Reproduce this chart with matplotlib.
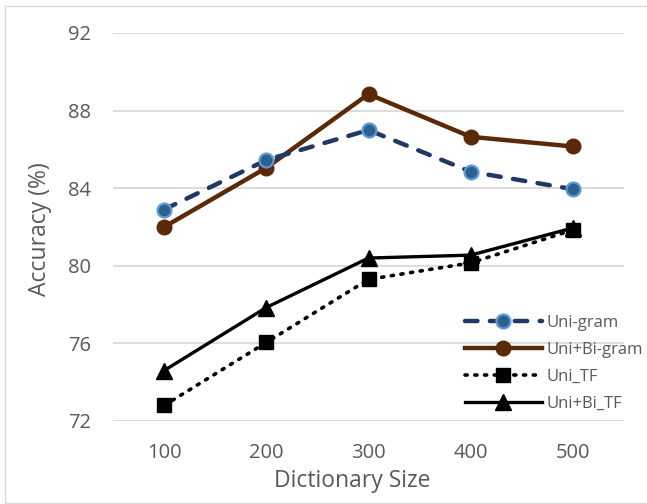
import matplotlib.pyplot as plt
from matplotlib.patches import Rectangle

plt.rcParams['font.family'] = ['Open Sans', 'DejaVu Sans']

sizes = [100, 200, 300, 400, 500]
uni_gram = [82.9, 85.45, 87.0, 84.85, 83.95]
uni_bi_gram = [82.0, 85.05, 88.85, 86.65, 86.15]
uni_tf = [72.8, 76.05, 79.3, 80.15, 81.85]
uni_bi_tf = [74.6, 77.85, 80.4, 80.55, 81.95]
y_ticks = [72, 76, 80, 84, 88, 92]

grey = '#595959'
W, H = 647, 504

fig = plt.figure(figsize=(W / 100, H / 100), dpi=100)
# plot area in pixels: x 113..624, y 33..421
ax = fig.add_axes([113 / W, 1 - 421 / H, (624 - 113) / W, (421 - 33) / H])

ax.plot(sizes, uni_gram, color='#1F3864', lw=3.2, ls=(0, (2.8, 2.8)), dash_capstyle='round',
        marker='o', ms=10, mfc='#2F5F8F', mec='#5B9BD5', mew=1.6, label='Uni-gram', zorder=4)
ax.plot(sizes, uni_bi_gram, color='#5A2A08', lw=3.2, marker='o', ms=10.5,
        mfc='#5A2A08', mec='#5A2A08', label='Uni+Bi-gram', zorder=3)
ax.plot(sizes, uni_tf, color='black', lw=2.6, ls=(0, (0.6, 2.1)), dash_capstyle='round',
        marker='s', ms=10.5, label='Uni_TF', zorder=3)
ax.plot(sizes, uni_bi_tf, color='black', lw=2.4, marker='^', ms=11.5, label='Uni+Bi_TF', zorder=3)

ax.set_xlim(50, 550)
ax.set_ylim(72, 92)
ax.set_xticks(sizes)
ax.set_yticks(y_ticks)
ax.grid(axis='y', color='#D9D9D9', lw=1.3)
ax.set_axisbelow(True)
for s in ax.spines.values():
    s.set_visible(False)
ax.tick_params(length=0, labelsize=14.5, colors=grey)
ax.tick_params(axis='y', pad=16)
ax.tick_params(axis='x', pad=16)

fig.text(352 / W, 1 - 481 / H, 'Dictionary Size', fontsize=16.5, color=grey,
         ha='center', va='center')
fig.text(40 / W, 1 - 229 / H, 'Accuracy (%)', fontsize=16.5, color=grey,
         ha='center', va='center', rotation=90)

leg = ax.legend(loc='lower left', bbox_to_anchor=(465 / W, 1 - 412 / H),
                bbox_transform=fig.transFigure, frameon=False, borderpad=0,
                borderaxespad=0, fontsize=12, handlelength=4.6, labelspacing=0.66,
                handletextpad=0.3)
for t in leg.get_texts():
    t.set_color(grey)

fig.patches.append(Rectangle((5 / W, 1 / H), 1.0, 1 - 7 / H, transform=fig.transFigure,
                             fill=False, ec='#D9D9D9', lw=1))

fig.savefig('out.png', dpi=100)
